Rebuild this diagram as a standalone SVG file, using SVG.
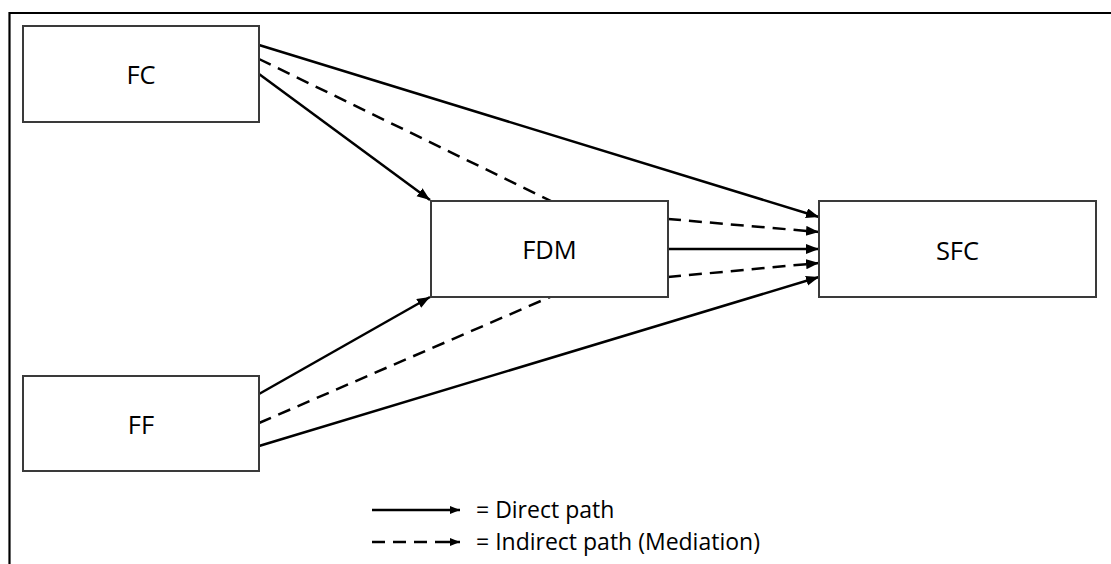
<svg xmlns="http://www.w3.org/2000/svg" width="1111" height="564" viewBox="0 0 1111 564">
<style>
.box{fill:#fff;stroke:#3a3a3a;stroke-width:2}
.lbl{font-family:"Open Sans","Noto Sans",sans-serif;font-size:25.5px;fill:#000;text-anchor:middle}
.leg{font-family:"Open Sans","Noto Sans",sans-serif;font-size:23px;fill:#000}
.solid{stroke:#000;stroke-width:2.5;fill:none}
.dash{stroke:#000;stroke-width:2.5;fill:none;stroke-dasharray:13 8}
</style>
<defs>
<marker id="ah" markerUnits="userSpaceOnUse" markerWidth="16" markerHeight="12" refX="13" refY="5" orient="auto">
<path d="M0,0 L13,5 L0,10 z" fill="#000"/>
</marker>
<marker id="ahs" markerUnits="userSpaceOnUse" markerWidth="12" markerHeight="10" refX="10" refY="4" orient="auto">
<path d="M0,0 L10,4 L0,8 z" fill="#000"/>
</marker>
</defs>
<rect width="1111" height="564" fill="#fff"/>
<g id="frame"><path d="M9.5,564 V13 H1111" fill="none" stroke="#000" stroke-width="2.2"/></g>
<g id="connectors">
<line class="solid" x1="259" y1="45" x2="819" y2="217" marker-end="url(#ah)"/>
<line class="dash" x1="259" y1="59" x2="551" y2="201"/>
<line class="solid" x1="259" y1="74" x2="430" y2="200" marker-end="url(#ah)"/>
<line class="dash" x1="668" y1="219" x2="819" y2="232" marker-end="url(#ah)"/>
<line class="solid" x1="668" y1="249" x2="819" y2="249" marker-end="url(#ah)"/>
<line class="dash" x1="668" y1="277" x2="819" y2="263" marker-end="url(#ah)"/>
<line class="solid" x1="259" y1="394" x2="430" y2="297" marker-end="url(#ah)"/>
<line class="dash" x1="259" y1="423" x2="550" y2="297"/>
<line class="solid" x1="259" y1="446" x2="819" y2="277" marker-end="url(#ah)"/>
</g>
<g id="FC"><rect class="box" x="23" y="26" width="236" height="96"/><text class="lbl" x="141" y="84">FC</text></g>
<g id="FF"><rect class="box" x="23" y="376" width="236" height="95"/><text class="lbl" x="141" y="434">FF</text></g>
<g id="FDM"><rect class="box" x="431" y="201" width="237" height="96"/><text class="lbl" x="549.5" y="259">FDM</text></g>
<g id="SFC"><rect class="box" x="819" y="201" width="277" height="96"/><text class="lbl" x="957.5" y="260">SFC</text></g>
<g id="legend">
<line class="solid" x1="372" y1="510" x2="460" y2="510" marker-end="url(#ahs)"/>
<text class="leg" x="476" y="518">= Direct path</text>
<line class="solid" x1="372" y1="542" x2="460" y2="542" stroke-dasharray="13 8 13 8 13 8 40" marker-end="url(#ahs)"/>
<text class="leg" x="476" y="550">= Indirect path (Mediation)</text>
</g>
</svg>
